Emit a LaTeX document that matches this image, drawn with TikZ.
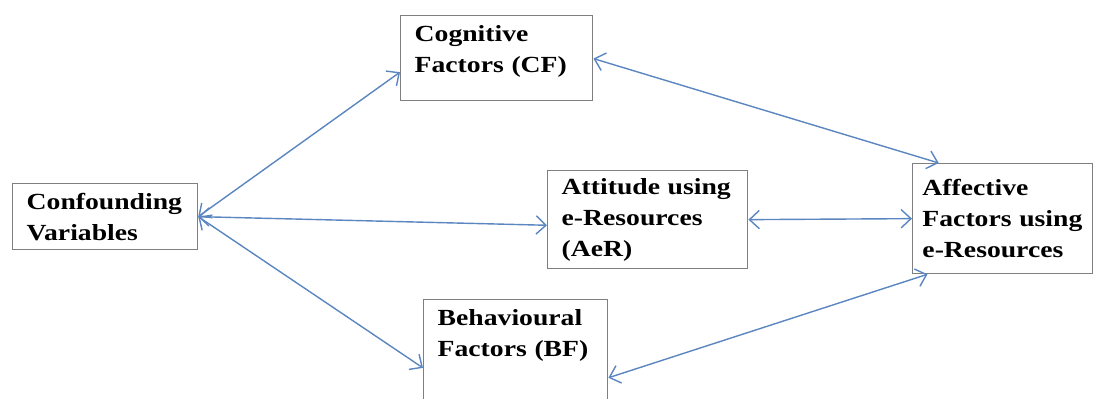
\documentclass[tikz,border=0pt]{standalone}
\usepackage{fontspec}
\setmainfont{Liberation Serif}[FakeStretch=1.2]
\usepackage{tikz}
\usetikzlibrary{arrows.meta,positioning,calc}

\definecolor{linkblue}{HTML}{5B86C0}
\definecolor{boxgray}{HTML}{7F7F7F}

\begin{document}
\begin{tikzpicture}[x=0.025cm,y=-0.025cm,
	factor/.style={rectangle,draw=boxgray,line width=0.9pt,anchor=north west,
		align=left,inner xsep=10pt,inner ysep=4pt,
		font=\bfseries\fontsize{16.4pt}{22pt}\selectfont},
	paths/.style={{Straight Barb[length=7pt,width=13pt]}-{Straight Barb[length=7pt,width=13pt]},
		draw=linkblue,line width=1pt}
	]
\useasboundingbox (0,0) rectangle (1094,399);

\node[factor,text width=4.1cm,inner ysep=7pt,text depth=35pt](cog) at (400,15) {Cognitive\\Factors (CF)};
\node[factor,text width=3.92cm,minimum height=1.65cm](conf) at (12,183) {Confounding\\Variables};
\node[factor,text width=4.3cm,minimum height=2.45cm](att) at (547,170) {Attitude using\\e-Resources\\(AeR)};
\node[factor,text width=4.0cm,inner xsep=7pt,minimum height=2.75cm](aff) at (912,163) {Affective\\Factors using\\e-Resources};
\node[factor,text width=3.9cm,inner ysep=7pt,text depth=50pt](beh) at (423,299) {Behavioural\\Factors (BF)};

\draw[paths](conf.east) to ([yshift=-10pt]cog.west);
\draw[paths](conf.east) to ([yshift=-4pt]att.west);
\draw[paths](conf.east) to ([yshift=-49pt]beh.north west);

\draw[paths]([yshift=-31pt]cog.north east) to ([xshift=19pt]aff.north west);
\draw[paths](att.east) to (aff.west);
\draw[paths]([yshift=-56pt]beh.north east) to ([xshift=11pt]aff.south west);
\end{tikzpicture}
\end{document}
